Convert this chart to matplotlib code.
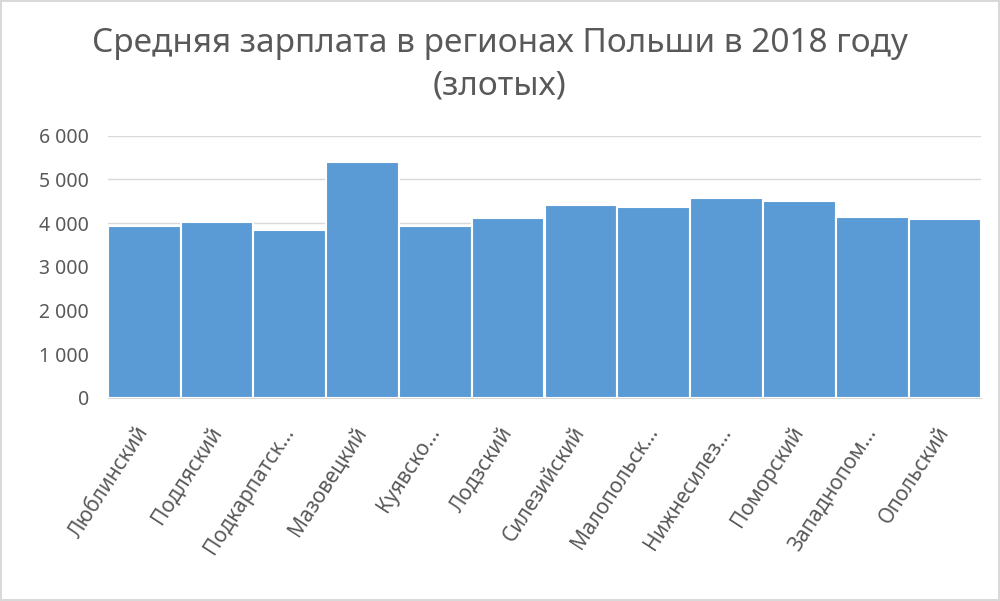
import numpy as np
import matplotlib
matplotlib.use('Agg')
import matplotlib.pyplot as plt
from matplotlib.ticker import FuncFormatter

plt.rcParams['font.family'] = ['Noto Sans', 'DejaVu Sans']

regions = ['Люблинский', 'Подляский', 'Подкарпатск...', 'Мазовецкий', 'Куявско...',
           'Лодзский', 'Силезийский', 'Малопольск...', 'Нижнесилез...', 'Поморский',
           'Западнопом...', 'Опольский']
salary = [3930, 4020, 3840, 5390, 3930, 4110, 4410, 4380, 4570, 4500, 4140, 4100]
yticks = [0, 1000, 2000, 3000, 4000, 5000, 6000]

grey = '#595959'

fig = plt.figure(figsize=(10, 6.01), dpi=100)
fig.patch.set_edgecolor('#D9D9D9')
fig.patch.set_linewidth(1.5)
ax = fig.add_axes([0.1077, 0.338, 0.8736, 0.436])

x = np.arange(len(regions))
ax.bar(x, salary, width=1.0, color='#5B9BD5', edgecolor='white', linewidth=1.5, zorder=3)

ax.set_xlim(-0.5, len(regions) - 0.5)
ax.set_ylim(0, 6000)
ax.set_yticks(yticks)
ax.yaxis.set_major_formatter(FuncFormatter(lambda v, p: f'{int(v):,}'.replace(',', ' ')))
ax.grid(axis='y', color='#D9D9D9', linewidth=1, zorder=0)
for s in ['top', 'right', 'left']:
    ax.spines[s].set_visible(False)
ax.spines['bottom'].set_color('#D9D9D9')
ax.tick_params(axis='both', length=0, colors=grey)
ax.tick_params(axis='y', pad=13.5, labelsize=14)
ax.set_xticks(x)
ax.set_xticklabels(regions, rotation=57, ha='right', va='center', rotation_mode='anchor')
ax.tick_params(axis='x', pad=22, labelsize=15)

fig.text(0.5, 0.928, 'Средняя зарплата в регионах Польши в 2018 году', ha='center', va='center',
         fontsize=24, color=grey)
fig.text(0.5, 0.857, '(злотых)', ha='center', va='center', fontsize=24, color=grey)

fig.savefig('out.png', dpi=100)
